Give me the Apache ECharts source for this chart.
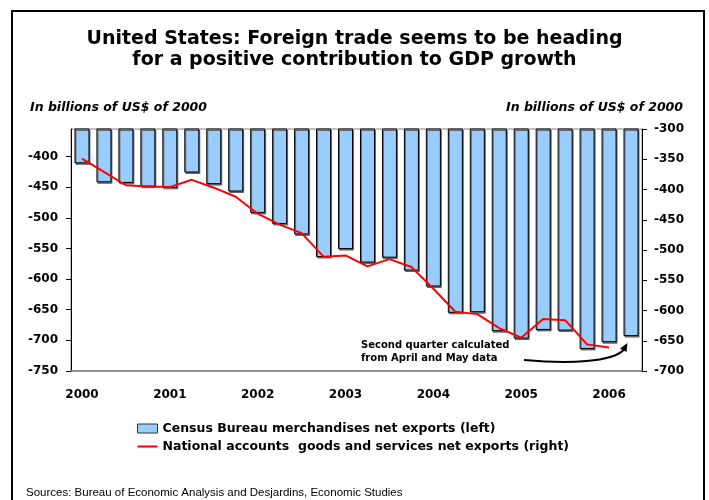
<!DOCTYPE html>
<html>
<head>
<meta charset="utf-8">
<script src="https://cdn.jsdelivr.net/npm/echarts@6/dist/echarts.min.js"></script>
<style>
  html, body { margin: 0; padding: 0; background: #fff; }
  #chart { width: 709px; height: 500px; }
</style>
</head>
<body>
<div id="chart"></div>
<script>
// Quarterly observations, 2000 Q1 to 2006 Q2
const quarters = [
  '2000Q1', '2000Q2', '2000Q3', '2000Q4',
  '2001Q1', '2001Q2', '2001Q3', '2001Q4',
  '2002Q1', '2002Q2', '2002Q3', '2002Q4',
  '2003Q1', '2003Q2', '2003Q3', '2003Q4',
  '2004Q1', '2004Q2', '2004Q3', '2004Q4',
  '2005Q1', '2005Q2', '2005Q3', '2005Q4',
  '2006Q1', '2006Q2'
];

// Census Bureau merchandise net exports, billions of 2000 US$ (left axis)
const censusNetExports = [
  -411, -442, -443, -449, -451, -426, -445, -457,
  -492, -510, -527, -564, -551, -573, -565, -586,
  -612, -655, -654, -685, -697, -683, -684, -714,
  -703, -693
];

// National accounts goods and services net exports (right axis)
const nationalAccountsNetExports = [
  -349, -371, -393, -395, -396, -384, -397, -412,
  -440, -458, -472, -511, -509, -527, -515, -528,
  -564, -602, -606, -629, -645, -614, -616, -656,
  -661, null
];

// Axis ranges
const leftAxisRange = [-750, -355];
const rightAxisRange = [-700, -300];
const tickStep = 50;

const FONT = '"DejaVu Sans", Verdana, sans-serif';
const FONT_PLAIN = 'Arial, "Liberation Sans", sans-serif';

const chart = echarts.init(document.getElementById('chart'), null, { renderer: 'canvas' });

chart.setOption({
  animation: false,
  backgroundColor: '#ffffff',
  textStyle: { fontFamily: FONT, color: '#000' },
  title: [
    {
      text: 'United States: Foreign trade seems to be heading\nfor a positive contribution to GDP growth',
      left: 'center',
      top: 23,
      textStyle: { fontFamily: FONT, fontSize: 19, fontWeight: 'bold', color: '#000', lineHeight: 21.5 }
    },
    {
      text: 'In billions of US$ of 2000',
      left: 25,
      top: 96,
      textStyle: { fontFamily: FONT, fontSize: 12.5, fontWeight: 'bold', fontStyle: 'italic', color: '#000' }
    },
    {
      text: 'In billions of US$ of 2000',
      right: 21,
      top: 96,
      textStyle: { fontFamily: FONT, fontSize: 12.5, fontWeight: 'bold', fontStyle: 'italic', color: '#000' }
    },
    {
      text: 'Sources: Bureau of Economic Analysis and Desjardins, Economic Studies',
      left: 21,
      top: 482,
      textStyle: { fontFamily: FONT_PLAIN, fontSize: 11.5, fontWeight: 'normal', color: '#000' }
    }
  ],
  legend: {
    orient: 'vertical',
    left: 132,
    top: 417,
    itemWidth: 20,
    itemHeight: 9,
    itemGap: 5,
    symbolKeepAspect: true,
    textStyle: { fontFamily: FONT, fontSize: 12.5, fontWeight: 'bold', color: '#000' },
    data: [
      {
        name: 'Census Bureau merchandises net exports (left)',
        icon: 'rect',
        itemStyle: { color: '#99CCFF', borderColor: '#333', borderWidth: 1 }
      },
      {
        name: 'National accounts  goods and services net exports (right)',
        icon: 'path://M0,0H20V2H0Z',
        itemStyle: { color: '#FF0000', borderWidth: 0 }
      }
    ]
  },
  grid: {
    left: 71,
    top: 129,
    width: 571,
    height: 242,
    show: true,
    borderColor: '#808080',
    borderWidth: 1,
    backgroundColor: 'transparent'
  },
  xAxis: {
    type: 'category',
    data: quarters,
    boundaryGap: true,
    axisLine: { show: true, lineStyle: { color: '#808080', width: 1.5 } },
    axisTick: { show: false },
    axisLabel: {
      interval: 3,
      margin: 18,
      fontFamily: FONT,
      fontSize: 12,
      fontWeight: 'bold',
      color: '#000',
      formatter: (v) => v.slice(0, 4)
    },
    splitLine: { show: false }
  },
  yAxis: [
    {
      type: 'value',
      position: 'left',
      min: leftAxisRange[0],
      max: leftAxisRange[1],
      interval: tickStep,
      axisLine: { show: true, lineStyle: { color: '#000', width: 1 } },
      axisTick: { show: true, inside: false, length: 5, lineStyle: { color: '#000' } },
      axisLabel: {
        showMaxLabel: false,
        margin: 13,
        fontFamily: FONT,
        fontSize: 12,
        fontWeight: 'bold',
        color: '#000'
      },
      splitLine: { show: false }
    },
    {
      type: 'value',
      position: 'right',
      min: rightAxisRange[0],
      max: rightAxisRange[1],
      interval: tickStep,
      axisLine: { show: true, lineStyle: { color: '#000', width: 1 } },
      axisTick: { show: true, inside: false, length: 5, lineStyle: { color: '#000' } },
      axisLabel: {
        margin: 12,
        fontFamily: FONT,
        fontSize: 12,
        fontWeight: 'bold',
        color: '#000'
      },
      splitLine: { show: false }
    }
  ],
  series: [
    {
      name: 'Census Bureau merchandises net exports (left)',
      type: 'bar',
      yAxisIndex: 0,
      data: censusNetExports,
      barWidth: 15,
      clip: true,
      itemStyle: {
        color: '#99CCFF',
        borderColor: '#000',
        borderWidth: 1,
        shadowColor: 'rgba(80,80,80,0.8)',
        shadowOffsetX: 1,
        shadowOffsetY: 1.5,
        shadowBlur: 0
      }
    },
    {
      name: 'National accounts  goods and services net exports (right)',
      type: 'line',
      yAxisIndex: 1,
      data: nationalAccountsNetExports,
      symbol: 'none',
      showSymbol: false,
      connectNulls: false,
      lineStyle: { color: '#FF0000', width: 2 },
      itemStyle: { color: '#FF0000' },
      z: 5
    }
  ],
  graphic: [
    // outer frame
    {
      type: 'rect',
      shape: { x: 12, y: 11, width: 692, height: 500 },
      style: { fill: 'none', stroke: '#000', lineWidth: 2 },
      silent: true,
      z: 100
    },
    // note about the latest quarter
    {
      type: 'text',
      left: 361,
      top: 339,
      style: {
        text: 'Second quarter calculated\nfrom April and May data',
        font: 'bold 10px ' + FONT,
        fill: '#000',
        lineHeight: 13
      },
      z: 100
    },
    {
      type: 'bezierCurve',
      shape: { x1: 524, y1: 360, x2: 623.5, y2: 350, cpx1: 570, cpy1: 364, cpx2: 612, cpy2: 362 },
      style: { stroke: '#000', lineWidth: 2, fill: 'none' },
      z: 100
    },
    {
      type: 'polygon',
      shape: { points: [[627.5, 343], [626.5, 352], [620, 348.5]] },
      style: { fill: '#000' },
      z: 100
    }
  ]
});
</script>
</body>
</html>
